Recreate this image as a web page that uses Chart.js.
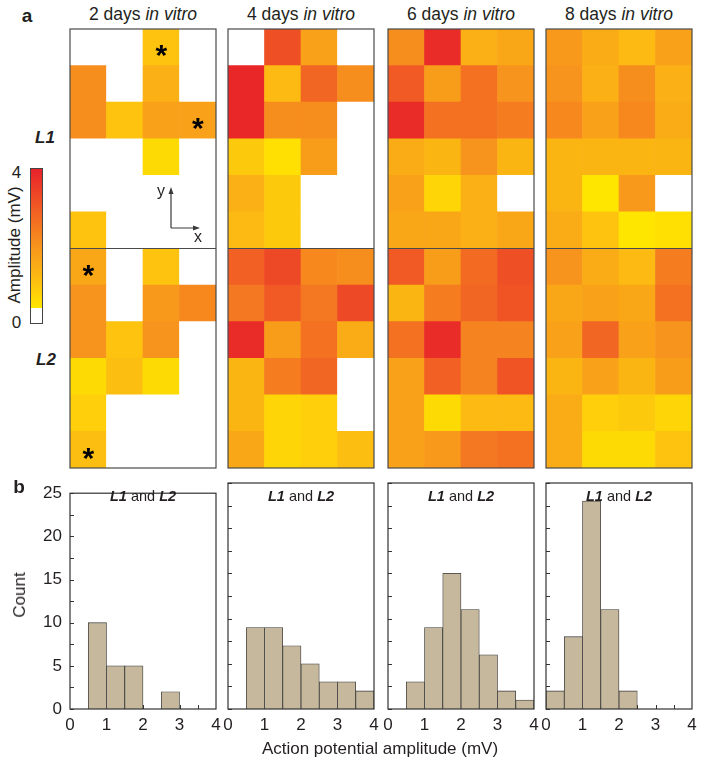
<!DOCTYPE html>
<html>
<head>
<meta charset="utf-8">
<script src="https://cdn.jsdelivr.net/npm/chart.js@4.4.1/dist/chart.umd.min.js"></script>
<style>
  body { margin: 0; background: #fff; width: 704px; height: 766px; position: relative; overflow: hidden;
         font-family: "Liberation Sans", Arial, sans-serif; color: #231f20; }
  .t { position: absolute; transform: translate(-50%, -50%); white-space: nowrap; }
  .rot { transform: translate(-50%, -50%) rotate(-90deg); }
  canvas { position: absolute; }
  .cbar { position: absolute; left: 30px; top: 168px; width: 11px; height: 154px; border: 1px solid #444;
          background: linear-gradient(to top, #fff 0%, #fff 10%, #FFE600 10%, #FDC30F 25%, #F7941D 50%, #F15A24 75%, #E8212A 100%); }
</style>
</head>
<body>
<script>
// electrode columns and rows (rows listed top to bottom, L1 = rows 0-5, L2 = rows 6-11)
const columns = ['1', '2', '3', '4'];
const dayLabels = ['2', '4', '6', '8'];

// action potential amplitude per electrode (mV), 0 = no signal
const amp2d = [
  [0, 0, 1.0, 0],
  [2.1, 0, 1.4, 0],
  [2.1, 1.0, 1.7, 1.7],
  [0, 0, 0.6, 0],
  [0, 0, 0, 0],
  [1.0, 0, 0, 0],
  [1.6, 0, 1.0, 0],
  [2.0, 0, 1.9, 2.2],
  [2.0, 1.0, 2.0, 0],
  [0.6, 1.1, 0.6, 0],
  [0.8, 0, 0, 0],
  [1.1, 0, 0, 0]
];
const amp4d = [
  [0, 3.2, 1.7, 0],
  [3.9, 1.2, 2.8, 2.1],
  [3.9, 2.1, 2.1, 0],
  [0.9, 0.5, 1.8, 0],
  [1.4, 0.9, 0, 0],
  [1.2, 0.9, 0, 0],
  [2.9, 3.3, 2.2, 2.1],
  [2.5, 3.0, 2.5, 3.3],
  [3.8, 1.8, 2.6, 1.5],
  [1.3, 2.4, 2.8, 0],
  [1.3, 0.7, 0.8, 0],
  [1.6, 0.7, 0.8, 1.1]
];
const amp6d = [
  [2.1, 3.8, 1.4, 1.6],
  [3.0, 1.8, 2.6, 2.0],
  [3.8, 2.6, 2.6, 2.4],
  [1.5, 1.3, 2.0, 1.3],
  [1.7, 0.7, 1.4, 0],
  [1.6, 1.6, 1.4, 1.6],
  [3.0, 1.8, 2.7, 3.2],
  [1.3, 2.4, 2.8, 3.1],
  [2.6, 3.8, 2.3, 2.3],
  [1.7, 2.9, 2.3, 3.1],
  [1.7, 0.6, 1.2, 1.2],
  [1.7, 1.9, 2.5, 2.6]
];
const amp8d = [
  [1.9, 1.5, 1.2, 1.7],
  [2.0, 1.4, 2.1, 1.4],
  [2.2, 1.7, 2.2, 1.5],
  [1.3, 1.3, 1.3, 1.3],
  [1.3, 0.4, 1.9, 0],
  [1.5, 1.0, 0.3, 0.5],
  [2.0, 1.5, 1.2, 2.4],
  [1.6, 1.7, 1.6, 2.6],
  [1.7, 2.8, 1.7, 2.0],
  [1.3, 1.7, 1.3, 1.8],
  [1.5, 0.8, 0.9, 0.7],
  [1.5, 0.6, 0.6, 1.0]
];
// electrodes marked with an asterisk (2 days): [row, column]
const starCells = [[0, 2], [2, 3], [6, 0], [11, 0]];

// histograms: bin centres (mV) and counts
const binCenters = [0.25, 0.75, 1.25, 1.75, 2.25, 2.75, 3.25, 3.75];
const count2d = [0, 10, 5, 5, 0, 2, 0, 0];
const count4d = [0, 9, 9, 7, 5, 3, 3, 2];
const count6d = [0, 3, 9, 15, 11, 6, 2, 1];
const count8d = [2, 8, 23, 11, 2, 0, 0, 0];
const countTicks = [0, 5, 10, 15, 20, 25];
const ampTicks = [0, 1, 2, 3, 4];

const FONT = '"Liberation Sans", Arial, sans-serif';
const colorStops = [[0.4, '#FFE600'], [1, '#FDC30F'], [2, '#F7941D'], [3, '#F15A24'], [4, '#E8212A']];
const panelLeft = [70, 228, 388, 546];

function hexRgb(h) {
  return [1, 3, 5].map(i => parseInt(h.slice(i, i + 2), 16));
}

function colorFor(v) {
  if (v <= 0) return '#ffffff';
  if (v <= colorStops[0][0]) return colorStops[0][1];
  for (let i = 1; i < colorStops.length; i++) {
    const [v1, c1] = colorStops[i];
    const [v0, c0] = colorStops[i - 1];
    if (v <= v1) {
      const f = (v - v0) / (v1 - v0);
      const a = hexRgb(c0), b = hexRgb(c1);
      return 'rgb(' + a.map((x, k) => Math.round(x + (b[k] - x) * f)).join(',') + ')';
    }
  }
  return colorStops[colorStops.length - 1][1];
}

function addText(html, x, y, style, cls) {
  const d = document.createElement('div');
  d.className = 't' + (cls ? ' ' + cls : '');
  d.innerHTML = html;
  d.style.left = x + 'px';
  d.style.top = y + 'px';
  Object.assign(d.style, style || {});
  document.body.appendChild(d);
}

function makeCanvas(left, top, w, h) {
  const c = document.createElement('canvas');
  c.width = w; c.height = h;
  c.style.left = left + 'px';
  c.style.top = top + 'px';
  document.body.appendChild(c);
  return c;
}

function heatmap(canvas, amps, stars) {
  const nRows = amps.length;
  const datasets = [];
  // stack from the bottom row upwards
  for (let r = nRows - 1; r >= 0; r--) {
    datasets.push({
      data: amps[r].map(() => 1),
      backgroundColor: amps[r].map(colorFor),
      borderWidth: 0,
      barPercentage: 1,
      categoryPercentage: 1
    });
  }
  const frame = {
    id: 'frame',
    afterDatasetsDraw(chart) {
      const { ctx, chartArea: a, scales: { x, y } } = chart;
      ctx.save();
      ctx.strokeStyle = '#4a4a4a';
      ctx.lineWidth = 1.2;
      ctx.strokeRect(a.left, a.top, a.right - a.left, a.bottom - a.top);
      const ym = y.getPixelForValue(nRows / 2);
      ctx.beginPath();
      ctx.moveTo(a.left, ym);
      ctx.lineTo(a.right, ym);
      ctx.stroke();
      ctx.fillStyle = '#000';
      ctx.font = 'bold 30px ' + FONT;
      ctx.textAlign = 'center';
      ctx.textBaseline = 'alphabetic';
      (stars || []).forEach(([r, c]) => {
        const cx = x.getPixelForValue(c);
        const cy = y.getPixelForValue(nRows - r - 0.5);
        ctx.fillText('*', cx, cy + 18);
      });
      ctx.restore();
    }
  };
  new Chart(canvas, {
    type: 'bar',
    data: { labels: columns, datasets },
    options: {
      responsive: false,
      animation: false,
      events: [],
      layout: { padding: 1 },
      plugins: { legend: { display: false }, tooltip: { enabled: false } },
      scales: {
        x: { display: false, stacked: true },
        y: { display: false, stacked: true, min: 0, max: nRows }
      }
    },
    plugins: [frame]
  });
}

const histFrame = {
  id: 'histFrame',
  beforeDatasetsDraw(chart) {
    const { ctx, chartArea: a, scales: { x, y } } = chart;
    ctx.save();
    ctx.strokeStyle = '#333';
    ctx.lineWidth = 1;
    ctx.beginPath();
    for (let v = 0; v <= 25; v += 2.5) {
      const py = Math.round(y.getPixelForValue(v)) + 0.5;
      ctx.moveTo(a.left, py); ctx.lineTo(a.left + 4, py);
    }
    for (let v = 0.5; v < 4; v += 0.5) {
      const px = Math.round(x.getPixelForValue(v)) + 0.5;
      ctx.moveTo(px, a.bottom); ctx.lineTo(px, a.bottom - 4);
    }
    ctx.stroke();
    ctx.restore();
  },
  afterDatasetsDraw(chart) {
    const { ctx, chartArea: a } = chart;
    ctx.save();
    ctx.strokeStyle = '#333';
    ctx.lineWidth = 1.2;
    ctx.strokeRect(a.left, a.top, a.right - a.left, a.bottom - a.top);
    ctx.restore();
  }
};

function histogram(canvas, counts, showY) {
  new Chart(canvas, {
    type: 'bar',
    data: {
      datasets: [{
        data: binCenters.map((b, i) => ({ x: b, y: counts[i] })),
        backgroundColor: '#C5B89C',
        borderColor: '#3a3a3a',
        borderWidth: 0.8,
        barPercentage: 1,
        categoryPercentage: 1
      }]
    },
    options: {
      responsive: false,
      animation: false,
      events: [],
      layout: { padding: { top: 8, right: 15, left: 0, bottom: 0 } },
      plugins: { legend: { display: false }, tooltip: { enabled: false } },
      scales: {
        x: {
          type: 'linear', min: 0, max: 4, offset: false,
          grid: { display: false, drawTicks: false, offset: false },
          border: { display: false },
          afterBuildTicks: s => { s.ticks = ampTicks.map(v => ({ value: v })); },
          ticks: { color: '#231f20', padding: 6, maxRotation: 0, font: { size: 17, family: FONT } },
          afterFit: s => { s.height = 31; }
        },
        y: {
          min: 0, max: 25,
          grid: { display: false, drawTicks: false },
          border: { display: false },
          afterBuildTicks: s => { s.ticks = countTicks.map(v => ({ value: v })); },
          ticks: { display: showY, color: '#231f20', padding: 8, font: { size: 17, family: FONT } },
          afterFit: s => { s.width = 45; }
        }
      }
    },
    plugins: [histFrame]
  });
}

// panel a: heatmaps
const amps = [amp2d, amp4d, amp6d, amp8d];
amps.forEach((a, i) => {
  const c = makeCanvas(panelLeft[i] - 1, 28, 148, 441);
  heatmap(c, a, i === 0 ? starCells : null);
  addText(dayLabels[i] + ' days <i>in vitro</i>', panelLeft[i] + 73, 14, { fontSize: '17.5px' });
});

// panel b: histograms
const counts = [count2d, count4d, count6d, count8d];
counts.forEach((cnt, i) => {
  const c = makeCanvas(panelLeft[i] - 45, 475, 206, 265);
  histogram(c, cnt, i === 0);
  addText('<b><i>L1</i></b> and <b><i>L2</i></b>', panelLeft[i] + 73, 496, { fontSize: '14.5px' });
});

// labels
addText('a', 27, 16, { fontSize: '19px', fontWeight: 'bold' });
addText('b', 19, 487, { fontSize: '19px', fontWeight: 'bold' });
addText('L1', 45, 138, { fontSize: '17px', fontWeight: 'bold', fontStyle: 'italic' });
addText('L2', 46, 360, { fontSize: '17px', fontWeight: 'bold', fontStyle: 'italic' });
addText('4', 16.5, 173, { fontSize: '17px' });
addText('0', 16.5, 323, { fontSize: '17px' });
addText('Amplitude (mV)', 14.5, 245, { fontSize: '17px' }, 'rot');
addText('Count', 20, 595, { fontSize: '17px' }, 'rot');
addText('Action potential amplitude (mV)', 380, 749, { fontSize: '17px' });

const bar = document.createElement('div');
bar.className = 'cbar';
document.body.appendChild(bar);

// x / y orientation arrows
const svgNS = 'http://www.w3.org/2000/svg';
const svg = document.createElementNS(svgNS, 'svg');
svg.setAttribute('width', '60');
svg.setAttribute('height', '60');
svg.style.position = 'absolute';
svg.style.left = '150px';
svg.style.top = '182px';
svg.innerHTML =
  '<path d="M21 46 V10 M21 46 H45" stroke="#3a3a3a" stroke-width="1.2" fill="none"/>' +
  '<path d="M21 5 L18.5 12 L23.5 12 Z M50 46 L43 43.5 L43 48.5 Z" fill="#3a3a3a"/>' +
  '<text x="11" y="14" font-size="16" font-family="Liberation Sans, Arial" fill="#231f20" text-anchor="middle">y</text>' +
  '<text x="48" y="60" font-size="16" font-family="Liberation Sans, Arial" fill="#231f20" text-anchor="middle">x</text>';
document.body.appendChild(svg);
</script>
</body>
</html>
